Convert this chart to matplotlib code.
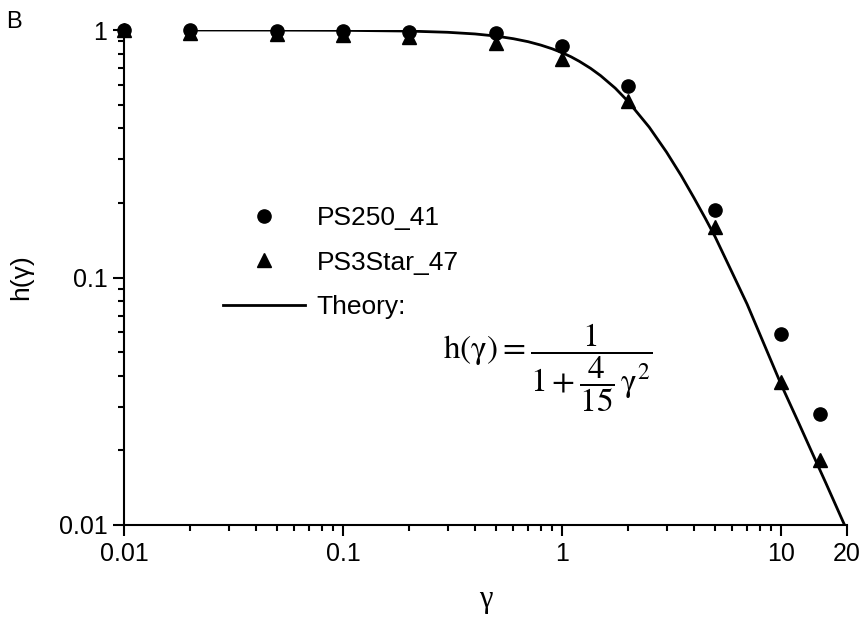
import numpy as np
import matplotlib.pyplot as plt
from matplotlib.ticker import FixedLocator, NullFormatter

plt.rcParams['font.family'] = ['Liberation Sans', 'DejaVu Sans']
plt.rcParams['mathtext.fontset'] = 'stix'

# measured points
gamma = [0.01, 0.02, 0.05, 0.1, 0.2, 0.5, 1, 2, 5, 10, 15]
h_ps250 = [1.0, 1.0, 0.995, 0.99, 0.985, 0.975, 0.86, 0.595, 0.187, 0.059, 0.028]
h_ps3star = [1.0, 0.97, 0.965, 0.953, 0.935, 0.89, 0.76, 0.515, 0.16, 0.0378, 0.0183]

# theory curve
gamma_th = [0.02, 0.05, 0.1, 0.2, 0.3, 0.4, 0.5, 0.6, 0.7, 0.8, 0.9, 1.0,
            1.1, 1.2, 1.35, 1.5, 1.75, 2.0, 2.5, 3.0, 3.5, 4.0, 4.5, 5.0,
            6.0, 7.0, 8.0, 10.0, 12.0, 14.0, 16.0, 20.0]
h_th = [1.0, 0.999, 0.997, 0.99, 0.979, 0.964, 0.945, 0.922, 0.897, 0.869,
        0.84, 0.81, 0.779, 0.747, 0.70, 0.654, 0.582, 0.515, 0.405, 0.321,
        0.258, 0.21, 0.174, 0.146, 0.104, 0.078, 0.059, 0.037, 0.026,
        0.0192, 0.0148, 0.0095]

xticks = [0.01, 0.1, 1, 10, 20]
xticklabels = ["0.01", "0.1", "1", "10", "20"]
yticks = [0.01, 0.1, 1]
yticklabels = ["0.01", "0.1", "1"]

fig = plt.figure(figsize=(8.67, 6.17), dpi=100)
ax = fig.add_axes([124/867, 1-525/617, (847-124)/867, (525-30)/617])

ax.plot(gamma_th, h_th, color='black', lw=2.0, label="Theory:", zorder=2)
ax.plot(gamma, h_ps250, 'o', color='black', ms=9.5, label="PS250_41",
        clip_on=False, zorder=3)
ax.plot(gamma, h_ps3star, '^', color='black', ms=10, label="PS3Star_47",
        clip_on=False, zorder=4)

ax.set_xscale('log')
ax.set_yscale('log')
ax.set_xlim(0.01, 20)
ax.set_ylim(0.01, 1.0)

ax.xaxis.set_major_locator(FixedLocator(xticks))
ax.set_xticklabels(xticklabels)
minx = [m * d for d in [0.01, 0.1, 1] for m in range(2, 10)]
ax.xaxis.set_minor_locator(FixedLocator(minx))
ax.xaxis.set_minor_formatter(NullFormatter())
ax.yaxis.set_major_locator(FixedLocator(yticks))
ax.set_yticklabels(yticklabels)
miny = [m * d for d in [0.01, 0.1] for m in range(2, 10)]
ax.yaxis.set_minor_locator(FixedLocator(miny))
ax.yaxis.set_minor_formatter(NullFormatter())

for s in ['top', 'right']:
    ax.spines[s].set_visible(False)
for s in ['left', 'bottom']:
    ax.spines[s].set_linewidth(1.5)
ax.tick_params(which='major', direction='out', length=8, width=1.5,
               labelsize=18, pad=4)
ax.tick_params(which='minor', direction='out', length=4, width=1.5)

ax.set_xlabel("γ", fontsize=22, family=['Liberation Serif', 'DejaVu Serif'],
              labelpad=14)
ax.set_ylabel("h(γ)", fontsize=19, labelpad=18)

handles, labels = ax.get_legend_handles_labels()
order = [1, 2, 0]
ax.legend([handles[i] for i in order], [labels[i] for i in order],
          loc='upper left', bbox_to_anchor=(223/867, 1-206/617),
          bbox_transform=fig.transFigure, frameon=False, fontsize=19,
          handlelength=3.1, handletextpad=0.45, labelspacing=0.78,
          borderpad=0, borderaxespad=0)

fig.text(548/867, 1-368/617,
         r'$\mathrm{h}(\mathrm{γ}) = \dfrac{1}{1+\dfrac{4}{15}\,\mathrm{γ}^2}$',
         fontsize=24, ha='center', va='center')

fig.text(6/867, 1-22/617, "B", fontsize=17, ha='left', va='center')

fig.savefig("out.png", dpi=100)
